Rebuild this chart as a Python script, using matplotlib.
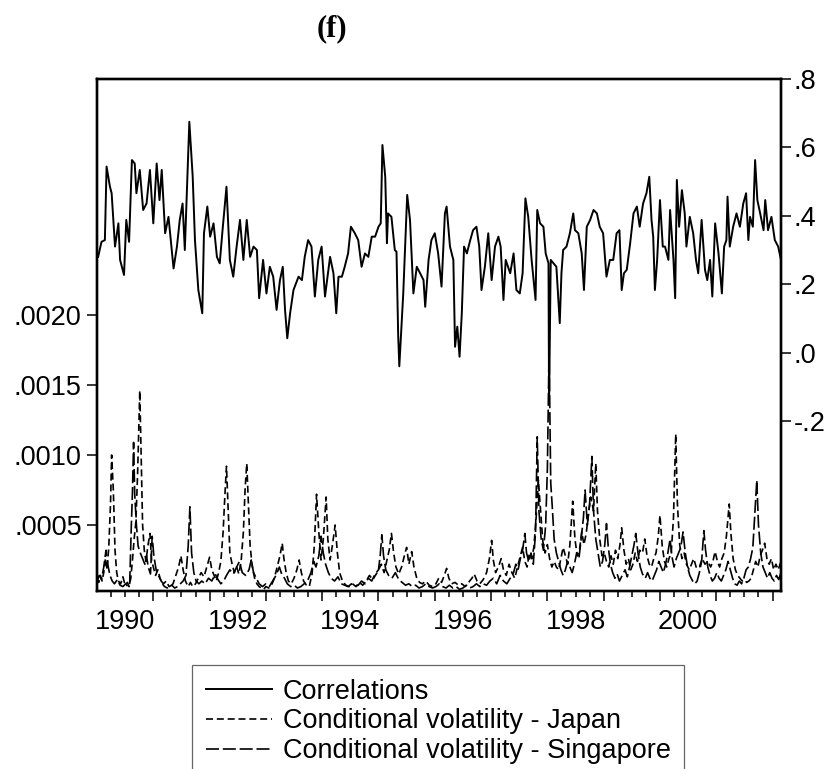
import numpy as np
import matplotlib
matplotlib.use("Agg")
import matplotlib.pyplot as plt

# ---- correlations (right axis), decimal years ----
corr_t = [1990.02, 1990.08, 1990.14, 1990.17, 1990.23, 1990.26, 1990.32, 1990.38, 1990.41, 1990.48,
          1990.52, 1990.57, 1990.62, 1990.67, 1990.70, 1990.76, 1990.82, 1990.88, 1990.94, 1991.00,
          1991.06, 1991.11, 1991.15, 1991.21, 1991.27, 1991.36, 1991.42, 1991.47, 1991.52, 1991.56,
          1991.64, 1991.70, 1991.74, 1991.80, 1991.87, 1991.90, 1991.96, 1992.01, 1992.07, 1992.13,
          1992.18, 1992.23, 1992.30, 1992.36, 1992.42, 1992.48, 1992.54, 1992.60, 1992.66, 1992.72,
          1992.78, 1992.84, 1992.88, 1992.95, 1993.01, 1993.07, 1993.13, 1993.19, 1993.25, 1993.30,
          1993.34, 1993.38, 1993.43, 1993.49, 1993.58, 1993.64, 1993.69, 1993.75, 1993.81, 1993.87,
          1993.93, 1993.99, 1994.05, 1994.14, 1994.20, 1994.25, 1994.29, 1994.35, 1994.40, 1994.46,
          1994.51, 1994.58, 1994.64, 1994.70, 1994.76, 1994.82, 1994.88, 1994.94, 1995.00, 1995.04,
          1995.07, 1995.12, 1995.15, 1995.17, 1995.23, 1995.29, 1995.32, 1995.35, 1995.37, 1995.44,
          1995.51, 1995.56, 1995.62, 1995.68, 1995.74, 1995.80, 1995.83, 1995.89, 1995.94, 1996.00,
          1996.06, 1996.12, 1996.18, 1996.21, 1996.27, 1996.33, 1996.36, 1996.40, 1996.44, 1996.48,
          1996.52, 1996.57, 1996.63, 1996.68, 1996.74, 1996.79, 1996.83, 1996.89, 1996.95, 1997.01,
          1997.07, 1997.13, 1997.17, 1997.22, 1997.26, 1997.34, 1997.40, 1997.45, 1997.51, 1997.56,
          1997.61, 1997.66, 1997.72, 1997.75, 1997.79, 1997.82, 1997.87, 1997.93, 1997.97, 1998.02,
          1998.03, 1998.06, 1998.11, 1998.16, 1998.22, 1998.25, 1998.28, 1998.34, 1998.40, 1998.46,
          1998.49, 1998.55, 1998.61, 1998.65, 1998.70, 1998.76, 1998.82, 1998.88, 1998.93, 1998.99,
          1999.05, 1999.11, 1999.17, 1999.23, 1999.28, 1999.32, 1999.36, 1999.41, 1999.47, 1999.53,
          1999.59, 1999.64, 1999.70, 1999.76, 1999.81, 1999.85, 1999.88, 1999.91, 1999.95, 2000.00,
          2000.05, 2000.09, 2000.15, 2000.18, 2000.24, 2000.27, 2000.30, 2000.34, 2000.39, 2000.44,
          2000.47, 2000.53, 2000.59, 2000.64, 2000.68, 2000.74, 2000.80, 2000.84, 2000.89, 2000.93,
          2000.98, 2001.04, 2001.10, 2001.14, 2001.18, 2001.20, 2001.24, 2001.30, 2001.36, 2001.42,
          2001.48, 2001.53, 2001.57, 2001.60, 2001.65, 2001.69, 2001.73, 2001.78, 2001.84, 2001.87,
          2001.92, 2001.98, 2002.04, 2002.10, 2002.15]
corr_v = [.280, .324, .329, .544, .485, .466, .310, .378, .271, .227,
          .388, .324, .563, .553, .466, .534, .417, .436, .534, .378,
          .553, .446, .534, .349, .397, .246, .310, .388, .436, .300,
          .675, .514, .329, .183, .115, .349, .427, .339, .378, .280,
          .261, .358, .485, .271, .222, .310, .388, .271, .388, .280,
          .310, .300, .159, .271, .173, .251, .222, .125, .212, .251,
          .125, .042, .115, .183, .222, .212, .280, .329, .310, .164,
          .271, .310, .164, .280, .232, .115, .222, .222, .251, .290,
          .368, .349, .329, .251, .290, .280, .339, .339, .368, .378,
          .607, .514, .320, .407, .397, .300, .295, .050, -.040, .173,
          .461, .388, .173, .251, .232, .212, .134, .271, .329, .349,
          .290, .193, .407, .427, .310, .271, .017, .076, -.012, .115,
          .310, .290, .329, .358, .368, .310, .183, .251, .349, .212,
          .310, .339, .310, .154, .271, .232, .290, .183, .173, .232,
          .451, .397, .271, .222, .154, .417, .378, .368, .290, .261,
          -.150, .271, .261, .251, .086, .232, .300, .310, .349, .407,
          .358, .349, .290, .183, .368, .388, .417, .407, .368, .349,
          .222, .271, .271, .349, .358, .183, .232, .242, .319, .407,
          .427, .368, .436, .466, .514, .388, .339, .183, .271, .446,
          .310, .310, .271, .417, .271, .159, .505, .368, .475, .407,
          .310, .397, .349, .271, .232, .388, .242, .212, .271, .164,
          .378, .290, .173, .310, .329, .456, .310, .368, .407, .368,
          .436, .466, .329, .397, .368, .563, .446, .407, .358, .446,
          .358, .397, .329, .310, .271]

# ---- conditional volatility - Japan (left axis, units of 1e-4) ----
jp_t = [1990.00, 1990.03, 1990.06, 1990.09, 1990.12, 1990.15, 1990.18, 1990.21, 1990.24, 1990.26,
        1990.29, 1990.32, 1990.35, 1990.38, 1990.42, 1990.46, 1990.50, 1990.54, 1990.57, 1990.60,
        1990.63, 1990.66, 1990.69, 1990.72, 1990.76, 1990.79, 1990.81, 1990.84, 1990.87, 1990.90,
        1990.94, 1990.97, 1991.00, 1991.04, 1991.08, 1991.12, 1991.16, 1991.20, 1991.25, 1991.30,
        1991.35, 1991.40, 1991.45, 1991.49, 1991.53, 1991.57, 1991.62, 1991.66, 1991.70, 1991.75,
        1991.80, 1991.85, 1991.90, 1991.95, 1992.00, 1992.04, 1992.08, 1992.12, 1992.16, 1992.20,
        1992.24, 1992.27, 1992.30, 1992.33, 1992.36, 1992.40, 1992.44, 1992.48, 1992.52, 1992.56,
        1992.60, 1992.63, 1992.66, 1992.69, 1992.72, 1992.76, 1992.80, 1992.84, 1992.88, 1992.92,
        1992.96, 1993.00, 1993.05, 1993.10, 1993.15, 1993.20, 1993.25, 1993.29, 1993.32, 1993.36,
        1993.40, 1993.45, 1993.50, 1993.55, 1993.59, 1993.63, 1993.67, 1993.72, 1993.77, 1993.82,
        1993.86, 1993.90, 1993.94, 1993.98, 1994.02, 1994.07, 1994.10, 1994.14, 1994.18, 1994.23,
        1994.27, 1994.31, 1994.36, 1994.42, 1994.48, 1994.54, 1994.60, 1994.66, 1994.72, 1994.78,
        1994.84, 1994.90, 1994.96, 1995.00, 1995.05, 1995.10, 1995.15, 1995.19, 1995.23, 1995.27,
        1995.31, 1995.36, 1995.41, 1995.46, 1995.50, 1995.54, 1995.59, 1995.63, 1995.68, 1995.73,
        1995.78, 1995.84, 1995.90, 1995.96, 1996.02, 1996.07, 1996.12, 1996.17, 1996.21, 1996.25,
        1996.30, 1996.36, 1996.42, 1996.48, 1996.54, 1996.60, 1996.66, 1996.70, 1996.75, 1996.80,
        1996.86, 1996.92, 1996.97, 1997.01, 1997.04, 1997.08, 1997.13, 1997.18, 1997.22, 1997.27,
        1997.32, 1997.37, 1997.42, 1997.47, 1997.52, 1997.56, 1997.60, 1997.64, 1997.68, 1997.72,
        1997.76, 1997.80, 1997.84, 1997.88, 1997.92, 1997.96, 1998.00, 1998.04, 1998.08, 1998.12,
        1998.16, 1998.20, 1998.24, 1998.28, 1998.32, 1998.36, 1998.40, 1998.45, 1998.49, 1998.53,
        1998.57, 1998.61, 1998.65, 1998.69, 1998.73, 1998.77, 1998.82, 1998.86, 1998.89, 1998.93,
        1998.97, 1999.01, 1999.05, 1999.09, 1999.13, 1999.17, 1999.21, 1999.25, 1999.29, 1999.32,
        1999.36, 1999.40, 1999.44, 1999.48, 1999.52, 1999.56, 1999.60, 1999.64, 1999.69, 1999.73,
        1999.77, 1999.81, 1999.85, 1999.89, 1999.93, 1999.97, 2000.00, 2000.04, 2000.08, 2000.12,
        2000.16, 2000.20, 2000.24, 2000.28, 2000.31, 2000.35, 2000.39, 2000.43, 2000.47, 2000.52,
        2000.56, 2000.60, 2000.65, 2000.70, 2000.75, 2000.80, 2000.85, 2000.90, 2000.94, 2000.98,
        2001.02, 2001.06, 2001.10, 2001.14, 2001.18, 2001.23, 2001.26, 2001.30, 2001.34, 2001.38,
        2001.42, 2001.46, 2001.50, 2001.54, 2001.58, 2001.62, 2001.66, 2001.70, 2001.74, 2001.78,
        2001.82, 2001.86, 2001.90, 2001.94, 2001.98, 2002.02, 2002.06, 2002.10, 2002.15]
jp_v = [1.2, 0.9, 1.4, 1.0, 1.6, 2.6, 1.8, 3.5, 6.5, 10.0,
        7.5, 3.2, 1.6, 1.0, 0.8, 1.3, 0.7, 0.9, 0.6, 1.2,
        2.5, 4.0, 5.2, 8.5, 14.6, 9.0, 5.0, 3.2, 2.4, 3.4,
        4.4, 2.5, 2.0, 1.4, 1.8, 1.2, 0.8, 0.6, 0.5, 0.6,
        0.8, 1.4, 2.0, 2.8, 1.8, 1.0, 0.6, 0.9, 0.6, 0.8,
        1.2, 1.6, 1.3, 2.0, 2.7, 1.8, 1.4, 1.0, 1.6, 2.4,
        4.5, 7.0, 9.2, 6.0, 3.0, 2.2, 1.6, 2.0, 1.5, 2.4,
        4.5, 7.5, 9.4, 6.5, 3.5, 2.0, 1.2, 0.8, 0.6, 0.5,
        0.4, 0.6, 0.5, 0.7, 1.2, 2.0, 2.8, 3.7, 2.6, 1.6,
        1.0, 0.8, 1.2, 1.8, 2.5, 1.6, 1.0, 0.7, 0.6, 1.5,
        3.5, 7.2, 4.5, 2.5, 4.0, 7.0, 4.0, 2.5, 3.5, 5.0,
        3.0, 1.6, 1.0, 0.7, 0.6, 0.8, 0.6, 0.9, 0.7, 1.0,
        1.4, 1.1, 1.5, 1.8, 2.2, 1.6, 2.5, 3.2, 4.4, 3.0,
        2.0, 1.5, 2.0, 2.8, 3.4, 2.2, 3.1, 2.0, 1.2, 0.9,
        0.8, 1.0, 0.7, 0.6, 0.8, 1.2, 0.9, 1.4, 1.9, 1.2,
        0.8, 0.9, 0.7, 0.8, 0.6, 0.9, 1.2, 1.5, 1.0, 0.8,
        1.1, 1.6, 2.6, 3.9, 2.5, 1.6, 2.0, 2.6, 1.8, 1.4,
        2.2, 1.6, 1.2, 2.0, 2.8, 3.4, 2.4, 2.0, 3.0, 2.6,
        3.4, 5.5, 8.2, 6.0, 3.8, 3.0, 3.6, 2.6, 2.0, 2.4,
        2.0, 1.8, 2.6, 3.4, 2.8, 2.2, 3.6, 6.7, 4.0, 2.8,
        3.2, 4.5, 3.6, 4.4, 5.8, 7.0, 6.0, 9.4, 6.0, 4.0,
        2.8, 3.0, 2.4, 2.0, 2.8, 2.2, 3.2, 2.6, 3.6, 4.8,
        3.2, 2.2, 2.6, 1.8, 2.2, 3.0, 2.4, 3.2, 3.0, 4.0,
        2.8, 2.2, 2.0, 2.6, 3.0, 4.2, 5.7, 3.5, 2.4, 2.0,
        2.6, 3.0, 5.5, 11.5, 6.5, 3.6, 2.6, 3.0, 2.2, 1.8,
        2.2, 2.6, 1.9, 2.0, 2.6, 2.2, 2.4, 2.0, 2.4, 3.1,
        2.4, 2.0, 2.6, 3.0, 4.2, 6.5, 4.4, 2.6, 1.8, 1.4,
        1.2, 1.0, 1.1, 0.9, 1.0, 1.2, 1.8, 2.4, 2.0, 2.8,
        3.2, 3.7, 2.6, 2.2, 2.6, 1.8, 2.2, 1.8, 2.4]

# ---- conditional volatility - Singapore (left axis, units of 1e-4) ----
sg_t = [1990.00, 1990.04, 1990.08, 1990.12, 1990.16, 1990.19, 1990.23, 1990.27, 1990.31, 1990.36,
        1990.41, 1990.46, 1990.51, 1990.55, 1990.58, 1990.61, 1990.63, 1990.65, 1990.67, 1990.70,
        1990.73, 1990.77, 1990.81, 1990.85, 1990.88, 1990.91, 1990.95, 1990.98, 1991.01, 1991.05,
        1991.09, 1991.14, 1991.18, 1991.23, 1991.28, 1991.33, 1991.38, 1991.43, 1991.48, 1991.53,
        1991.58, 1991.62, 1991.65, 1991.68, 1991.72, 1991.76, 1991.81, 1991.86, 1991.92, 1991.98,
        1992.04, 1992.10, 1992.15, 1992.20, 1992.25, 1992.30, 1992.36, 1992.42, 1992.48, 1992.53,
        1992.58, 1992.64, 1992.70, 1992.74, 1992.78, 1992.83, 1992.88, 1992.94, 1993.00, 1993.06,
        1993.12, 1993.18, 1993.24, 1993.28, 1993.33, 1993.38, 1993.44, 1993.50, 1993.56, 1993.62,
        1993.68, 1993.74, 1993.80, 1993.85, 1993.89, 1993.94, 1993.98, 1994.02, 1994.06, 1994.11,
        1994.16, 1994.22, 1994.28, 1994.34, 1994.40, 1994.46, 1994.52, 1994.58, 1994.64, 1994.70,
        1994.76, 1994.82, 1994.88, 1994.94, 1995.00, 1995.03, 1995.06, 1995.09, 1995.13, 1995.18,
        1995.24, 1995.30, 1995.36, 1995.42, 1995.48, 1995.54, 1995.60, 1995.66, 1995.72, 1995.78,
        1995.84, 1995.90, 1995.96, 1996.02, 1996.08, 1996.14, 1996.20, 1996.26, 1996.32, 1996.38,
        1996.44, 1996.50, 1996.56, 1996.62, 1996.68, 1996.74, 1996.80, 1996.86, 1996.92, 1996.98,
        1997.04, 1997.10, 1997.16, 1997.22, 1997.28, 1997.34, 1997.40, 1997.44, 1997.48, 1997.52,
        1997.56, 1997.60, 1997.63, 1997.67, 1997.71, 1997.75, 1997.79, 1997.82, 1997.85, 1997.89,
        1997.93, 1997.97, 1998.00, 1998.03, 1998.06, 1998.09, 1998.12, 1998.16, 1998.20, 1998.24,
        1998.28, 1998.32, 1998.36, 1998.40, 1998.44, 1998.48, 1998.52, 1998.56, 1998.60, 1998.64,
        1998.67, 1998.71, 1998.75, 1998.79, 1998.82, 1998.86, 1998.90, 1998.94, 1998.98, 1999.02,
        1999.05, 1999.08, 1999.12, 1999.16, 1999.20, 1999.24, 1999.28, 1999.33, 1999.38, 1999.42,
        1999.46, 1999.50, 1999.54, 1999.57, 1999.61, 1999.65, 1999.69, 1999.74, 1999.78, 1999.82,
        1999.86, 1999.90, 1999.94, 1999.98, 2000.02, 2000.06, 2000.10, 2000.14, 2000.18, 2000.21,
        2000.25, 2000.29, 2000.33, 2000.37, 2000.41, 2000.45, 2000.49, 2000.53, 2000.58, 2000.62,
        2000.66, 2000.70, 2000.74, 2000.78, 2000.81, 2000.85, 2000.89, 2000.93, 2000.97, 2001.01,
        2001.05, 2001.09, 2001.13, 2001.17, 2001.21, 2001.25, 2001.29, 2001.33, 2001.37, 2001.41,
        2001.45, 2001.49, 2001.53, 2001.57, 2001.61, 2001.65, 2001.68, 2001.72, 2001.75, 2001.79,
        2001.83, 2001.87, 2001.91, 2001.95, 2001.99, 2002.03, 2002.07, 2002.11, 2002.15]
sg_v = [1.0, 1.4, 1.1, 2.0, 3.2, 2.2, 1.4, 1.0, 0.8, 1.1,
        0.7, 0.6, 0.8, 0.6, 0.7, 5.0, 7.4, 10.9, 7.2, 5.0,
        3.5, 3.0, 2.6, 2.2, 2.8, 2.0, 1.5, 4.2, 2.8, 1.8,
        1.4, 1.0, 0.8, 1.0, 0.6, 0.7, 0.5, 0.6, 0.8, 1.0,
        1.4, 3.5, 6.3, 3.0, 1.6, 1.0, 0.8, 1.0, 0.8, 1.2,
        1.0, 1.5, 1.1, 0.8, 1.0, 1.4, 1.8, 1.5, 2.0, 2.4,
        1.6, 1.4, 1.8, 2.5, 1.6, 1.2, 0.8, 0.6, 0.8, 0.6,
        1.0, 1.4, 2.0, 1.5, 1.2, 0.8, 0.6, 0.7, 0.5, 0.6,
        0.8, 1.0, 1.6, 2.4, 2.0, 2.8, 4.2, 3.0, 2.2, 1.6,
        1.2, 1.0, 1.3, 0.8, 0.7, 0.6, 0.8, 0.6, 0.7, 1.0,
        0.8, 1.2, 1.0, 1.5, 1.8, 2.8, 4.3, 2.8, 1.8, 1.4,
        1.2, 1.6, 1.1, 0.9, 0.7, 0.8, 0.6, 0.7, 0.5, 0.6,
        0.8, 0.6, 0.5, 0.6, 0.8, 0.6, 0.5, 0.7, 0.5, 0.6,
        0.4, 0.5, 0.7, 0.5, 0.6, 0.8, 0.6, 0.8, 0.7, 1.0,
        1.2, 0.8, 1.4, 1.0, 0.8, 1.2, 1.6, 2.2, 1.8, 2.6,
        3.2, 4.4, 3.0, 2.4, 3.0, 2.2, 4.5, 11.3, 6.0, 4.0,
        3.2, 5.0, 9.0, 17.5, 8.0, 6.1, 4.0, 3.0, 2.4, 1.8,
        1.4, 1.8, 2.4, 2.0, 1.6, 2.2, 3.0, 2.6, 4.0, 5.5,
        7.5, 5.0, 6.5, 9.9, 6.0, 4.0, 3.0, 2.0, 2.4, 3.6,
        5.1, 3.5, 2.2, 1.6, 1.2, 1.5, 1.0, 1.4, 1.8, 1.3,
        2.0, 2.8, 3.6, 4.4, 3.0, 2.0, 1.5, 1.2, 1.6, 1.2,
        1.0, 1.4, 1.8, 2.4, 2.0, 1.6, 2.2, 3.0, 4.0, 2.8,
        2.0, 2.6, 3.0, 3.4, 4.5, 3.0, 2.0, 1.4, 1.0, 0.8,
        1.0, 1.6, 2.4, 4.6, 3.2, 2.0, 1.4, 1.0, 1.2, 1.6,
        1.2, 1.0, 1.4, 1.8, 2.4, 1.8, 1.2, 0.8, 0.7, 1.0,
        0.8, 1.2, 1.8, 2.0, 2.6, 3.4, 5.5, 8.2, 5.0, 3.0,
        2.0, 1.6, 1.2, 1.6, 1.2, 1.0, 1.4, 1.1, 1.6]

year_labels = ['1990', '1992', '1994', '1996', '1998', '2000']
left_ticks = [0.0005, 0.0010, 0.0015, 0.0020]
left_labels = ['.0005', '.0010', '.0015', '.0020']
right_ticks = [-0.2, 0.0, 0.2, 0.4, 0.6, 0.8]
right_labels = ['-.2', '.0', '.2', '.4', '.6', '.8']
legend_labels = ['Correlations', 'Conditional volatility - Japan',
                 'Conditional volatility - Singapore']

plt.rcParams['font.family'] = ['Liberation Sans', 'DejaVu Sans']
FS = 19.5

fig = plt.figure(figsize=(8.34, 7.69), dpi=100)
ax = fig.add_axes([97 / 834, 1 - 591 / 769, (781 - 97) / 834, (591 - 79) / 769])
ax2 = ax.twinx()

jp_line, = ax.plot(jp_t, np.array(jp_v) * 1e-4, color='black', lw=1.2,
                   dashes=(4.2, 2.3))
sg_line, = ax.plot(sg_t, np.array(sg_v) * 1e-4, color='black', lw=1.2,
                   dashes=(7.8, 2.3))
corr_line, = ax2.plot(corr_t, corr_v, color='black', lw=1.4)

ax.set_xlim(1990.0, 2002.15)
ax.set_ylim(0.0000286, 0.0036857)
ax2.set_ylim(-0.697, 0.8)

# year boundaries (long ticks) and quarters (short ticks)
ax.set_xticks(np.arange(1991, 2003), labels=[])
ax.set_xticks(np.arange(1990.25, 2002.1, 0.25), minor=True)
ax.tick_params(axis='x', which='major', direction='out', length=7.5, width=1.1)
ax.tick_params(axis='x', which='minor', direction='out', length=4.5, width=1.1)

# year labels centred on the year
sec = ax.secondary_xaxis('bottom')
sec.set_xticks([int(y) + 0.5 for y in year_labels], labels=year_labels)
sec.tick_params(length=0, pad=13, labelsize=FS)
sec.spines['bottom'].set_visible(False)

ax.set_yticks(left_ticks, labels=left_labels)
ax.tick_params(axis='y', direction='out', length=7, width=1.1, pad=4,
               labelsize=FS)
ax2.set_yticks(right_ticks, labels=right_labels)
ax2.tick_params(axis='y', direction='out', length=7, width=1.1, pad=2,
                labelsize=FS)

for a in (ax, ax2):
    for s in a.spines.values():
        s.set_linewidth(1.7)

fig.text(332 / 834, 1 - 29 / 769, '(f)', ha='center', va='center',
         fontsize=22, fontweight='bold', family='Liberation Serif')

leg = fig.legend([corr_line, jp_line, sg_line], legend_labels,
                 loc='upper left', bbox_to_anchor=(192 / 834, 1 - 665 / 769),
                 bbox_transform=fig.transFigure, borderaxespad=0,
                 fontsize=FS, handlelength=2.45, handletextpad=0.4,
                 labelspacing=0.14, borderpad=0.5, fancybox=False,
                 framealpha=1, edgecolor='#666666')
leg.get_frame().set_linewidth(0.9)

fig.savefig('out.png', dpi=100)
